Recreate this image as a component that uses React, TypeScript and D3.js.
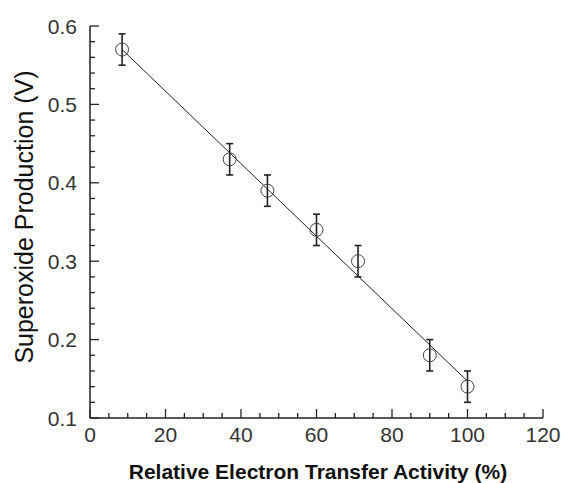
import React from "react";
import * as d3 from "d3";

const activity = [8.5, 37, 47, 60, 71, 90, 100];
const superoxide = [0.57, 0.43, 0.39, 0.34, 0.30, 0.18, 0.14];
const errors = [0.02, 0.02, 0.02, 0.02, 0.02, 0.02, 0.02];
const fitX = [8.5, 100];
const fitY = [0.570, 0.147];
const xTicks = [0, 20, 40, 60, 80, 100, 120];
const yTicks = [0.1, 0.2, 0.3, 0.4, 0.5, 0.6];

export default function App() {
  const W = 561, H = 483;
  const x = d3.scaleLinear().domain([0, 120]).range([90, 543]);
  const y = d3.scaleLinear().domain([0.1, 0.6]).range([418, 26]);
  const xMinor = d3.range(0, 121, 5);
  const yMinor = d3.range(0, 26).map((i) => 0.1 + i * 0.02);
  const line = d3.line<number>().x((_, i) => x(fitX[i])).y((d) => y(d));
  const font = "'Liberation Sans', Arial, sans-serif";
  return (
    <svg width={W} height={H} style={{ position: "absolute", left: 0, top: 0 }}>
      <rect width={W} height={H} fill="#fff" />
      <line x1={x(0)} x2={x(120)} y1={y(0.1)} y2={y(0.1)} stroke="#222" strokeWidth={1.5} />
      <line x1={x(0)} x2={x(0)} y1={y(0.1)} y2={y(0.6)} stroke="#222" strokeWidth={1.5} />
      {xMinor.map((v) => {
        const major = v % 20 === 0;
        return (
          <line key={"xt" + v} x1={x(v)} x2={x(v)} y1={y(0.1)} y2={y(0.1) - (major ? 9 : 5)} stroke="#222" strokeWidth={1.3} />
        );
      })}
      {yMinor.map((v, i) => {
        const major = i % 5 === 0;
        return (
          <line key={"yt" + i} x1={x(0)} x2={x(0) + (major ? 9 : 5)} y1={y(v)} y2={y(v)} stroke="#222" strokeWidth={1.3} />
        );
      })}
      {xTicks.map((v) => (
        <text key={"xl" + v} x={x(v)} y={y(0.1) + 24} textAnchor="middle" fontFamily={font} fontSize={21} fill="#333">
          {v}
        </text>
      ))}
      {yTicks.map((v) => (
        <text key={"yl" + v} x={x(0) - 13} y={y(v) + 7.5} textAnchor="end" fontFamily={font} fontSize={21} fill="#333">
          {v.toFixed(1)}
        </text>
      ))}
      <path d={line(fitY) || ""} fill="none" stroke="#222" strokeWidth={1} />
      {activity.map((a, i) => (
        <g key={"e" + i} stroke="#222" strokeWidth={1.6}>
          <line x1={x(a)} x2={x(a)} y1={y(superoxide[i] - errors[i])} y2={y(superoxide[i] + errors[i])} />
          <line x1={x(a) - 3.5} x2={x(a) + 3.5} y1={y(superoxide[i] - errors[i])} y2={y(superoxide[i] - errors[i])} />
          <line x1={x(a) - 3.5} x2={x(a) + 3.5} y1={y(superoxide[i] + errors[i])} y2={y(superoxide[i] + errors[i])} />
        </g>
      ))}
      {activity.map((a, i) => (
        <circle key={"c" + i} cx={x(a)} cy={y(superoxide[i])} r={6.5} fill="none" stroke="#444" strokeWidth={1} />
      ))}
      <text x={318} y={479} textAnchor="middle" fontFamily={font} fontSize={21} fontWeight="bold" fill="#111">
        Relative Electron Transfer Activity (%)
      </text>
      <text transform={`translate(33, 217) rotate(-90)`} textAnchor="middle" fontFamily={font} fontSize={25} fill="#111">
        Superoxide Production (V)
      </text>
    </svg>
  );
}
